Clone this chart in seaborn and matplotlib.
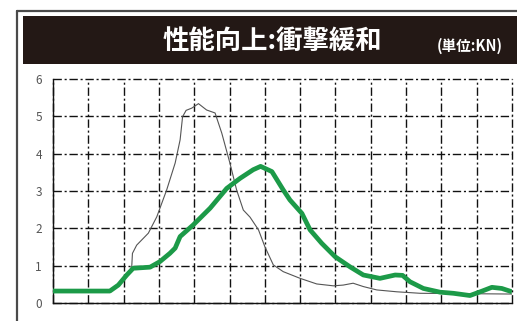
import matplotlib
matplotlib.use("Agg")
import matplotlib.pyplot as plt
from matplotlib.lines import Line2D
from matplotlib.patches import Rectangle
import pandas as pd
import seaborn as sns

# Load curves (kN) sampled along the time axis (13 grid divisions)
base_x = [0, 1.61, 1.85, 2.09, 2.23, 2.25, 2.37, 2.7, 2.94, 3.22, 3.46, 3.6, 3.67,
          3.77, 3.93, 4.12, 4.35, 4.59, 4.78, 5.01, 5.2, 5.39, 5.58, 5.82, 6.0,
          6.24, 6.52, 7.0, 7.47, 7.94, 8.22, 8.5, 8.79, 9.17, 9.74, 10.4, 13]
base_y = [0.32, 0.32, 0.48, 0.75, 0.97, 1.33, 1.55, 1.87, 2.31, 3.03, 3.75, 4.37, 4.99,
          5.16, 5.22, 5.34, 5.17, 5.09, 4.55, 3.75, 3.03, 2.49, 2.3, 1.96, 1.51,
          1.02, 0.84, 0.66, 0.51, 0.46, 0.48, 0.53, 0.44, 0.35, 0.3, 0.26, 0.24]

improved_x = [0, 1.61, 1.85, 2.09, 2.27, 2.75, 3.03, 3.31, 3.46, 3.6, 3.97, 4.45,
              4.92, 5.3, 5.67, 5.88, 6.2, 6.52, 6.71, 7.05, 7.28, 7.61, 7.99, 8.41,
              8.79, 9.26, 9.69, 9.9, 10.11, 10.49, 10.96, 11.34, 11.81, 12.1,
              12.43, 12.71, 13]
improved_y = [0.32, 0.32, 0.48, 0.75, 0.93, 0.96, 1.11, 1.33, 1.47, 1.78, 2.09, 2.54,
              3.07, 3.34, 3.57, 3.66, 3.52, 3.03, 2.76, 2.4, 1.96, 1.6, 1.24, 0.97,
              0.75, 0.66, 0.75, 0.74, 0.57, 0.39, 0.29, 0.26, 0.2, 0.3,
              0.42, 0.39, 0.3]

y_ticks = [0, 1, 2, 3, 4, 5, 6]
title_text = "性能向上:衝撃緩和"
unit_text = "(単位:KN)"

sns.set_style("white")
plt.rcParams["font.family"] = ["Noto Sans CJK JP", "DejaVu Sans"]

fig = plt.figure(figsize=(5.17, 3.21), dpi=100)
W, H = 517, 321

# outer frame (top and left edges) and dark title band
frame_kw = dict(transform=fig.transFigure, color="#4a4a4a", linewidth=1.6)
fig.lines.append(Line2D([17 / W, 1.0], [1 - 11 / H, 1 - 11 / H], **frame_kw))
fig.lines.append(Line2D([17 / W, 17 / W], [0, 1 - 11 / H], **frame_kw))
fig.patches.append(Rectangle((23 / W, 1 - 64 / H), 1.0, 48 / H, transform=fig.transFigure,
                             facecolor="#231815", edgecolor="none"))
fig.text(272 / W, 1 - 41 / H, title_text, color="white", fontsize=19, fontweight="bold",
         ha="center", va="center")
fig.text(470 / W, 1 - 46 / H, unit_text, color="white", fontsize=10.5, fontweight="bold",
         ha="center", va="center")

ax = fig.add_axes([53 / W, 1 - 303 / H, (512 - 53) / W, (303 - 79) / H])
ax.set_facecolor("white")

base_df = pd.DataFrame({"x": base_x, "y": base_y})
improved_df = pd.DataFrame({"x": improved_x, "y": improved_y})

sns.lineplot(data=base_df, x="x", y="y", ax=ax, color="#555555", linewidth=0.8,
             sort=False, estimator=None, zorder=3)
sns.lineplot(data=improved_df, x="x", y="y", ax=ax, color="#1c9a48", linewidth=3.4,
             sort=False, estimator=None, zorder=4, solid_capstyle="butt",
             solid_joinstyle="round")

ax.set_xlim(0, 13)
ax.set_ylim(0, 6)
ax.set_xticks(range(0, 14))
ax.set_yticks(y_ticks)
ax.set_xticklabels([])
ax.set_xlabel("")
ax.set_ylabel("")
ax.tick_params(axis="x", length=0)
ax.tick_params(axis="y", length=0, labelsize=8.5, labelcolor="#555555", pad=8)
ax.grid(True, color="#111111", linewidth=1.0, linestyle=(0, (6, 2, 1.5, 2)))
for side in ["top", "right"]:
    ax.spines[side].set_visible(False)
for side in ["left", "bottom"]:
    ax.spines[side].set_color("#111111")
    ax.spines[side].set_linewidth(1.0)
ax.set_axisbelow(True)
for gl in ax.get_xgridlines() + ax.get_ygridlines():
    gl.set_clip_on(False)

fig.savefig("out.png", dpi=100)
